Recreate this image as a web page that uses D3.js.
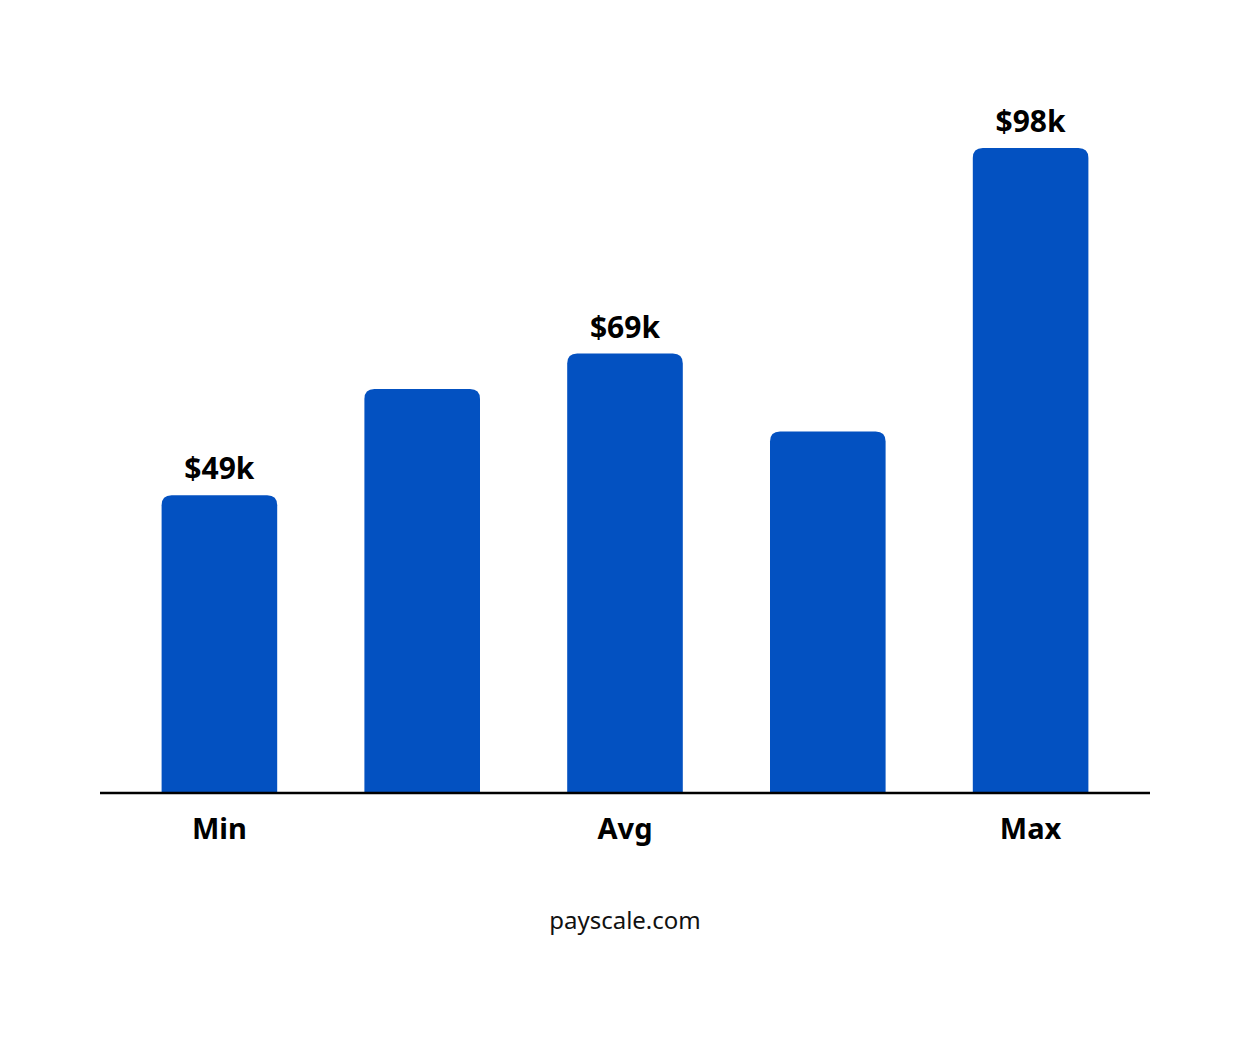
<!DOCTYPE html>
<html><head><meta charset="utf-8">
<script src="https://cdn.jsdelivr.net/npm/d3@7"></script>
<style>body{margin:0;background:#fff}</style></head>
<body><svg id="c" width="1250" height="1042"></svg>
<script>
const categories = ["Min","p25","Avg","p75","Max"];
const values = [49, 64, 69, 58, 98];
const axisLabels = ["Min","","Avg","","Max"];
const valueLabels = ["$49k","","$69k","","$98k"];
const svg = d3.select("#c");
const x = d3.scaleBand().domain(categories).range([118,1132]).paddingInner(0.43).paddingOuter(0.215);
const y = d3.scaleLinear().domain([7,98]).range([793,148]);
const r = 10, font = "'Noto Sans', Lato, sans-serif";
svg.selectAll("path.bar").data(values).enter().append("path")
  .attr("fill","#0351c1")
  .attr("d",(d,i)=>{const x0=x(categories[i]),w=x.bandwidth(),t=y(d),b=793;
    return `M${x0},${b}V${t+r}Q${x0},${t} ${x0+r},${t}H${x0+w-r}Q${x0+w},${t} ${x0+w},${t+r}V${b}Z`;});
svg.append("line").attr("x1",100).attr("x2",1150).attr("y1",793).attr("y2",793).attr("stroke","#000").attr("stroke-width",2.5);
svg.selectAll("text.v").data(values).enter().append("text")
  .attr("x",(d,i)=>x(categories[i])+x.bandwidth()/2).attr("y",d=>y(d)-16)
  .attr("text-anchor","middle").attr("font-family",font).attr("font-weight","bold").attr("font-size",30)
  .text((d,i)=>valueLabels[i]);
svg.selectAll("text.a").data(categories).enter().append("text")
  .attr("x",d=>x(d)+x.bandwidth()/2).attr("y",839)
  .attr("text-anchor","middle").attr("font-family",font).attr("font-weight","bold").attr("font-size",29)
  .text((d,i)=>axisLabels[i]);
svg.append("text").attr("x",625).attr("y",929).attr("text-anchor","middle").attr("font-family",font)
  .attr("font-size",24).attr("fill","#111").text("payscale.com");
</script></body></html>
